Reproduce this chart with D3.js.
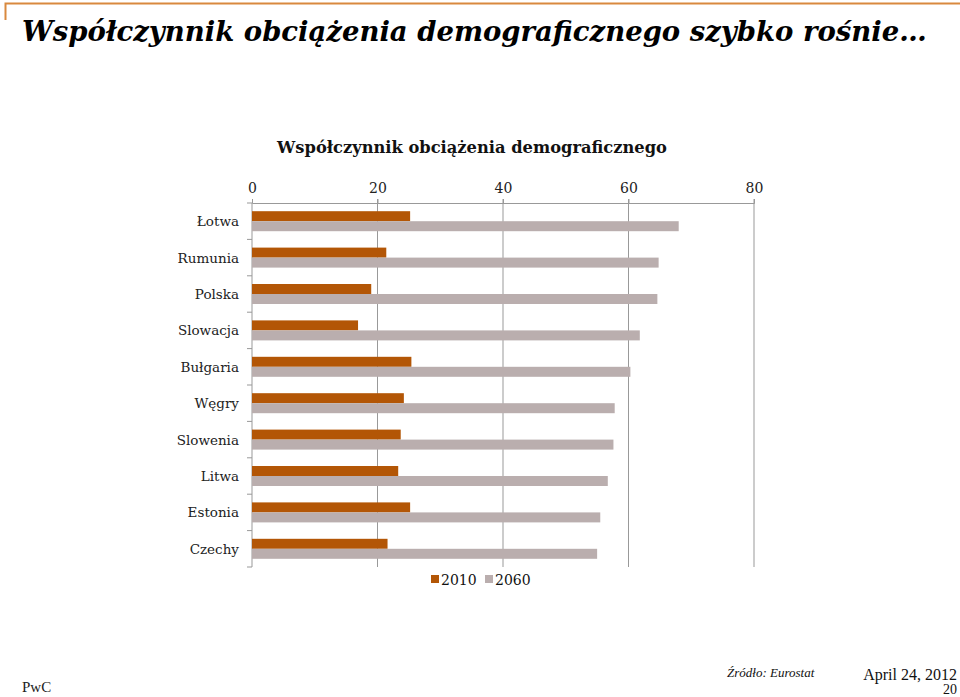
<!DOCTYPE html>
<html><head><meta charset="utf-8">
<script src="https://cdn.jsdelivr.net/npm/d3@7"></script>
<style>body{margin:0;background:#fff}svg{display:block}</style>
</head><body>
<svg id="c" width="960" height="697"></svg>
<script>
const categories = ["Łotwa","Rumunia","Polska","Slowacja","Bułgaria","Węgry","Slowenia","Litwa","Estonia","Czechy"];
const values2010 = [25.2,21.4,19.0,16.9,25.4,24.2,23.7,23.3,25.2,21.6];
const values2060 = [68.0,64.8,64.6,61.8,60.3,57.8,57.6,56.7,55.5,55.0];
const seriesNames = ["2010","2060"];
const tickValues = [0,20,40,60,80];
const title = "Współczynnik obciążenia demograficznego szybko rośnie…";
const chartTitle = "Współczynnik obciążenia demograficznego";

const serif = "'DejaVu Serif', Georgia, serif";
const colors = ["#B35606","#BAAEAE"];
const svg = d3.select("#c");

// frame accent
svg.append("path").attr("d","M5.5,20 V3.5 H960").attr("fill","none").attr("stroke","#D9893F").attr("stroke-width",2);

const t = svg.append("text").attr("x",22).attr("y",41).text(title)
  .attr("font-family",serif).attr("font-weight","bold").attr("font-style","italic")
  .attr("font-size",29).attr("fill","#000");
const w = t.node().getComputedTextLength();
t.attr("font-size", 29*905/w);

svg.append("text").attr("x",472).attr("y",153).attr("text-anchor","middle").text(chartTitle)
  .attr("font-family",serif).attr("font-weight","bold").attr("font-size",16.3).attr("fill","#111");

const x = d3.scaleLinear().domain([0,80]).range([252,754]);
const y = d3.scaleBand().domain(categories).range([203,567]);
const sub = d3.scaleBand().domain(seriesNames).range([0,20]);

const g = svg.append("g");
// gridlines
g.selectAll("line.grid").data(tickValues.slice(1)).join("line")
  .attr("x1",d=>x(d)).attr("x2",d=>x(d)).attr("y1",199).attr("y2",567)
  .attr("stroke","#999").attr("stroke-width",1);

// top axis
const ax = g.append("g").attr("transform","translate(0,203)")
  .call(d3.axisTop(x).tickValues(tickValues).tickSize(4).tickPadding(6));
ax.select(".domain").attr("stroke","#999");
ax.selectAll(".tick line").attr("stroke","#999");
ax.selectAll("text").attr("font-family",serif).attr("font-size",14).attr("fill","#222");

// left axis with boundary ticks
const bounds = categories.map(c=>y(c)).concat([567]);
g.append("line").attr("x1",252).attr("x2",252).attr("y1",203).attr("y2",567).attr("stroke","#999");
g.selectAll("line.lt").data(bounds).join("line")
  .attr("x1",247).attr("x2",252).attr("y1",d=>d).attr("y2",d=>d).attr("stroke","#999");
g.selectAll("text.cat").data(categories).join("text")
  .attr("x",239).attr("y",d=>y(d)+y.bandwidth()/2+5).attr("text-anchor","end")
  .attr("font-family",serif).attr("font-size",13.5).attr("fill","#222").text(d=>d);

const off = (y.bandwidth()-20)/2;
const series = [values2010, values2060];
series.forEach((vals,si)=>{
  g.selectAll("rect.s"+si).data(categories).join("rect")
    .attr("x",x(0)).attr("y",(d)=>y(d)+off+sub(seriesNames[si]))
    .attr("width",(d,i)=>x(vals[i])-x(0)).attr("height",sub.bandwidth())
    .attr("fill",colors[si]);
});

// legend
const leg = svg.append("g").attr("transform","translate(431,575)");
[[0,"2010"],[54,"2060"]].forEach(([dx,tt],i)=>{
  leg.append("rect").attr("x",dx).attr("y",0).attr("width",8).attr("height",8).attr("fill",colors[i]);
  leg.append("text").attr("x",dx+10).attr("y",10).text(tt)
    .attr("font-family",serif).attr("font-size",14).attr("fill","#111");
});

// footer
const fs = "'Liberation Serif', serif";
svg.append("text").attr("x",22).attr("y",692).text("PwC").attr("font-family",fs).attr("font-size",15).attr("fill","#222");
svg.append("text").attr("x",727).attr("y",677).text("Źródło: Eurostat").attr("font-family",fs).attr("font-style","italic").attr("font-size",13).attr("fill","#111");
svg.append("text").attr("x",957).attr("y",680).attr("text-anchor","end").text("April 24, 2012").attr("font-family",fs).attr("font-size",16).attr("fill","#111");
svg.append("text").attr("x",957).attr("y",694).attr("text-anchor","end").text("20").attr("font-family",fs).attr("font-size",14).attr("fill","#111");
</script>
</body></html>
